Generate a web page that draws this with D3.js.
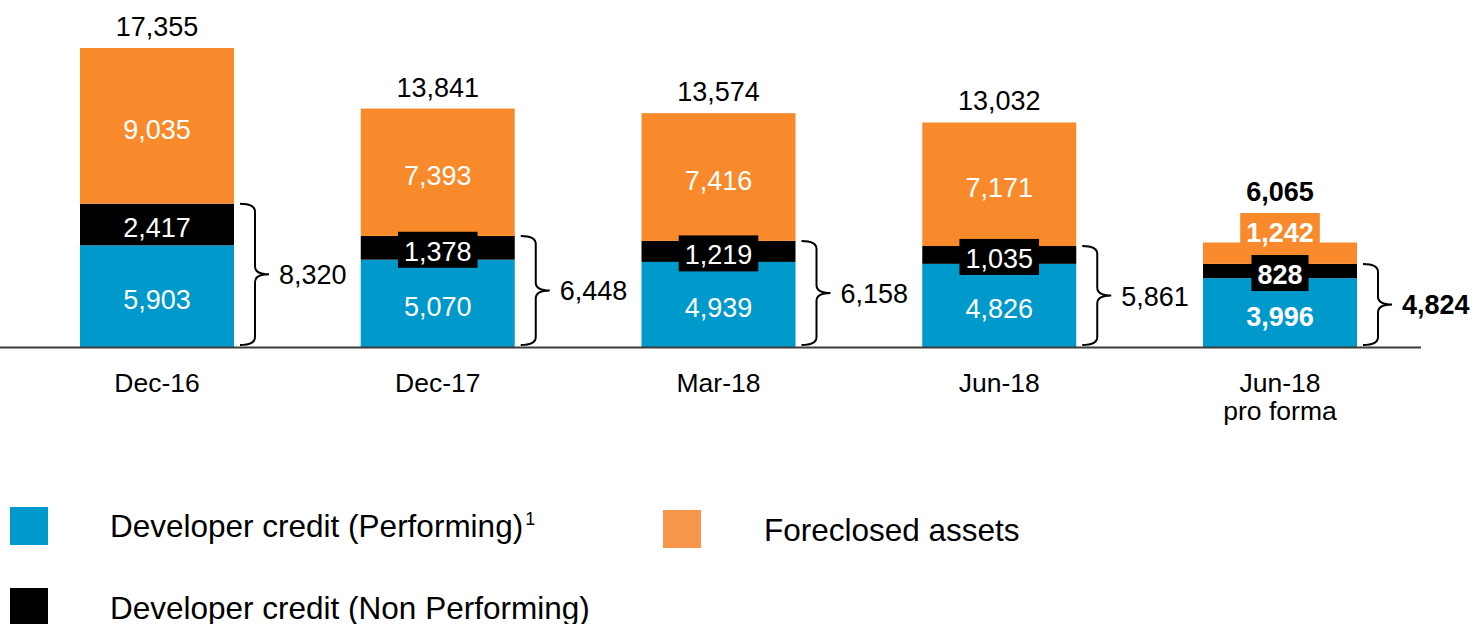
<!DOCTYPE html>
<html>
<head>
<meta charset="utf-8">
<script src="https://cdn.jsdelivr.net/npm/d3@7/dist/d3.min.js"></script>
<style>
  html, body { margin: 0; padding: 0; background: #ffffff; }
  svg { display: block; font-family: "Liberation Sans", Arial, sans-serif; }
</style>
</head>
<body>
<svg id="chart" width="1476" height="624"></svg>
<script>
// Developer exposure by period (EUR m)
const categories = ["Dec-16", "Dec-17", "Mar-18", "Jun-18", "Jun-18 pro forma"];
const categoryLines = [["Dec-16"], ["Dec-17"], ["Mar-18"], ["Jun-18"], ["Jun-18", "pro forma"]];
const performing = [5903, 5070, 4939, 4826, 3996];
const nonPerforming = [2417, 1378, 1219, 1035, 828];
const foreclosed = [9035, 7393, 7416, 7171, 1242];
const totals = [17355, 13841, 13574, 13032, 6065];
const developerTotals = [8320, 6448, 6158, 5861, 4824];

const seriesKeys = ["performing", "nonPerforming", "foreclosed"];
const seriesNames = ["Developer credit (Performing)", "Developer credit (Non Performing)", "Foreclosed assets"];
const barColors = { performing: "#0099CB", nonPerforming: "#000000", foreclosed: "#F98A2B" };
const legendColors = { performing: "#0099CB", nonPerforming: "#000000", foreclosed: "#F7964A" };

const rows = categories.map((c, i) => ({
  category: c,
  performing: performing[i],
  nonPerforming: nonPerforming[i],
  foreclosed: foreclosed[i]
}));

const svg = d3.select("#chart");
const baseY = 347;
const fmt = d3.format(",");
const valueSize = 27;
const boxH = 36;
const lastIdx = categories.length - 1;

const x = d3.scaleBand()
  .domain(categories)
  .range([80, 1357])
  .paddingInner(0.4515)
  .paddingOuter(0);

const y = d3.scaleLinear()
  .domain([0, d3.max(totals)])
  .range([baseY, 48]);

const stacked = d3.stack().keys(seriesKeys)(rows);

// Bar segments
const segLayer = svg.append("g");
stacked.forEach(layer => {
  segLayer.selectAll(null)
    .data(layer)
    .join("rect")
    .attr("x", d => x(d.data.category))
    .attr("y", d => y(d[1]))
    .attr("width", x.bandwidth())
    .attr("height", d => y(d[0]) - y(d[1]))
    .attr("fill", barColors[layer.key]);
});

// Baseline
svg.append("line")
  .attr("x1", 0).attr("x2", 1421)
  .attr("y1", baseY + 0.5).attr("y2", baseY + 0.5)
  .attr("stroke", "#3a3a3a").attr("stroke-width", 2);

// Segment value labels, with a coloured backing box where the segment is thin
const boxLayer = svg.append("g");
const textLayer = svg.append("g");
const topOfLabels = [];

categories.forEach((cat, i) => {
  const bold = i === lastIdx;
  const cx = x(cat) + x.bandwidth() / 2;
  let prevBoxTop = null;
  const boxes = [];
  stacked.forEach(layer => {
    const d = layer[i];
    const y0 = y(d[0]), y1 = y(d[1]);
    const segH = y0 - y1;
    let center = (y0 + y1) / 2 + 2;
    const t = textLayer.append("text")
      .attr("x", cx)
      .attr("text-anchor", "middle")
      .attr("fill", "#ffffff")
      .attr("font-size", valueSize)
      .attr("font-weight", bold ? "bold" : "normal")
      .text(fmt(d[1] - d[0]));
    const w = t.node().getComputedTextLength() + 12;
    const needBox = segH < boxH;
    if (needBox) {
      let top = center - boxH / 2;
      let bottom = center + boxH / 2;
      if (prevBoxTop !== null && bottom > prevBoxTop) {
        bottom = prevBoxTop - 6;
        top = bottom - boxH;
        center = (top + bottom) / 2;
      }
      boxes.push({ key: layer.key, top, w, cx });
      prevBoxTop = top;
    } else {
      prevBoxTop = null;
    }
    t.attr("y", center + 11);
  });
  // draw upper boxes first so lower ones sit on top
  boxes.slice().reverse().forEach(b => {
    boxLayer.append("rect")
      .attr("x", b.cx - b.w / 2)
      .attr("y", b.top)
      .attr("width", b.w)
      .attr("height", boxH)
      .attr("fill", barColors[b.key]);
  });
  const minTop = d3.min([y(d3.sum(seriesKeys, k => rows[i][k]))].concat(boxes.map(b => b.top)));
  topOfLabels.push(minTop);
});

// Totals above bars
svg.append("g").selectAll("text")
  .data(categories)
  .join("text")
  .attr("x", d => x(d) + x.bandwidth() / 2)
  .attr("y", (d, i) => topOfLabels[i] - 12)
  .attr("text-anchor", "middle")
  .attr("font-size", valueSize)
  .attr("font-weight", (d, i) => i === lastIdx ? "bold" : "normal")
  .attr("fill", "#000")
  .text((d, i) => fmt(totals[i]));

// Curly braces for developer credit subtotal
const braceLayer = svg.append("g");
categories.forEach((cat, i) => {
  const right = x(cat) + x.bandwidth();
  const yTop = y(performing[i] + nonPerforming[i]);
  const yBot = baseY - 2;
  const yMid = (yTop + yBot) / 2;
  const x0 = right + 6, x1 = right + 21, x2 = right + 35, r = 8;
  const p = d3.path();
  p.moveTo(x0, yTop);
  p.quadraticCurveTo(x1, yTop, x1, yTop + r);
  p.lineTo(x1, yMid - r);
  p.quadraticCurveTo(x1, yMid, x2, yMid);
  p.moveTo(x0, yBot);
  p.quadraticCurveTo(x1, yBot, x1, yBot - r);
  p.lineTo(x1, yMid + r);
  p.quadraticCurveTo(x1, yMid, x2, yMid);
  braceLayer.append("path")
    .attr("d", p.toString())
    .attr("fill", "none")
    .attr("stroke", "#000")
    .attr("stroke-width", 2);
  braceLayer.append("text")
    .attr("x", right + 45)
    .attr("y", yMid + 10)
    .attr("font-size", valueSize)
    .attr("font-weight", i === lastIdx ? "bold" : "normal")
    .attr("fill", "#000")
    .text(fmt(developerTotals[i]));
});

// Category labels
const catLayer = svg.append("g");
categories.forEach((cat, i) => {
  const t = catLayer.append("text")
    .attr("x", x(cat) + x.bandwidth() / 2)
    .attr("y", 392)
    .attr("text-anchor", "middle")
    .attr("font-size", 26.5)
    .attr("fill", "#000");
  categoryLines[i].forEach((line, j) => {
    t.append("tspan")
      .attr("x", x(cat) + x.bandwidth() / 2)
      .attr("dy", j === 0 ? 0 : 28)
      .text(line);
  });
});

// Legend
const legendItems = [
  { key: "performing", sx: 10, sy: 507, tx: 110, ty: 537, sup: "1" },
  { key: "nonPerforming", sx: 10, sy: 588, tx: 110, ty: 619, sup: null },
  { key: "foreclosed", sx: 663, sy: 510, tx: 764, ty: 541, sup: null }
];
const legend = svg.append("g");
legendItems.forEach(item => {
  legend.append("rect")
    .attr("x", item.sx).attr("y", item.sy)
    .attr("width", 38).attr("height", 38)
    .attr("fill", legendColors[item.key]);
  const t = legend.append("text")
    .attr("x", item.tx).attr("y", item.ty)
    .attr("font-size", 31.5)
    .attr("fill", "#000")
    .text(seriesNames[seriesKeys.indexOf(item.key)]);
  if (item.sup) {
    t.append("tspan")
      .attr("font-size", 18)
      .attr("dx", 2)
      .attr("dy", -12)
      .text(item.sup);
  }
});
</script>
</body>
</html>
